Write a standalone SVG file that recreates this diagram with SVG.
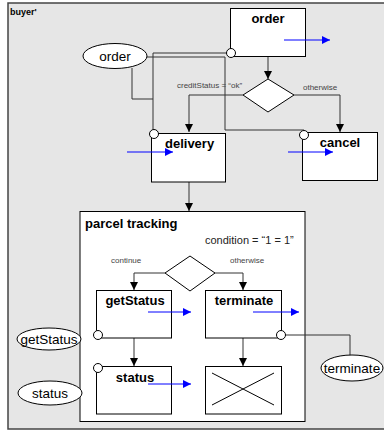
<svg xmlns="http://www.w3.org/2000/svg" width="384" height="432" viewBox="0 0 384 432">
<defs>
<marker id="ah" viewBox="0 0 10 10" refX="10" refY="5" markerWidth="8" markerHeight="8" markerUnits="userSpaceOnUse" orient="auto"><path d="M0,0 L10,5 L0,10 Z" fill="#000"/></marker>
<marker id="bh" viewBox="0 0 10 10" refX="10" refY="5" markerWidth="9" markerHeight="8" markerUnits="userSpaceOnUse" orient="auto"><path d="M0,0 L10,5 L0,10 Z" fill="#0000ff"/></marker>
<style>
.box{fill:#fff;stroke:#000;stroke-width:1}
.title{font-family:"Liberation Sans",Arial,sans-serif;font-size:13px;font-weight:bold;fill:#000}
.el{font-family:"Liberation Sans",Arial,sans-serif;font-size:13.5px;fill:#000}
.lbl{font-family:"Liberation Sans",Arial,sans-serif;font-size:8px;fill:#444}
.cond{font-family:"Liberation Sans",Arial,sans-serif;font-size:11px;fill:#222}
.ln{fill:none;stroke:#333;stroke-width:1}
.arr{fill:none;stroke:#333;stroke-width:1;marker-end:url(#ah)}
.blue{fill:none;stroke:#0000ff;stroke-width:1;marker-end:url(#bh)}
.port{fill:#fff;stroke:#000;stroke-width:1}
</style>
</defs>
<g id="frame">
<rect x="8" y="3" width="382" height="426" fill="#e6e6e6" stroke="#444" stroke-width="1.5"/>
<text x="10" y="15" font-family="Liberation Sans,Arial,sans-serif" font-size="9" font-weight="bold">buyer'</text>
</g>
<g id="parcel-tracking">
<rect class="box" x="80" y="211.5" width="225" height="210"/>
<text class="title" x="85" y="228">parcel tracking</text>
<text class="cond" x="205" y="244">condition = “1 = 1”</text>
</g>
<g id="connectors">
<path class="arr" d="M268,56 V79"/>
<path class="arr" d="M243,95 H189 V132"/>
<path class="arr" d="M294,95 H340 V132"/>
<path class="arr" d="M189,182 V211"/>
<path class="ln" d="M231,53 H153 V134"/>
<path class="ln" d="M147,57 H225 V130 H304"/>
<path class="ln" d="M132,68 V99 H153"/>
<path class="arr" d="M165,273 H134 V290"/>
<path class="arr" d="M215,273 H243 V290"/>
<path class="arr" d="M134,338 V366"/>
<path class="arr" d="M243,338 V366"/>
<path class="ln" d="M281,335 H350 V356"/>
<text class="lbl" x="177" y="88">creditStatus = “ok”</text>
<text class="lbl" x="303" y="90">otherwise</text>
<text class="lbl" x="111" y="263">continue</text>
<text class="lbl" x="230" y="263">otherwise</text>
</g>
<g id="order">
<rect class="box" x="230.5" y="8.5" width="75" height="48"/>
<text class="title" x="268" y="23" text-anchor="middle">order</text>
<path class="blue" d="M284,40 H330"/>
<circle class="port" cx="231" cy="53" r="4.5"/>
</g>
<g id="decision-credit">
<path d="M243,95 L268,79 L294,95 L268,112 Z" fill="#fff" stroke="#000"/>
</g>
<g id="order-msg">
<ellipse cx="115" cy="56" rx="32" ry="12.5" fill="#fff" stroke="#000"/>
<text class="el" x="115" y="60.5" text-anchor="middle">order</text>
</g>
<g id="delivery">
<rect class="box" x="151.5" y="133.5" width="74" height="48.5"/>
<text class="title" x="165" y="148">delivery</text>
<path class="blue" d="M127,152 H173"/>
<circle class="port" cx="154" cy="134" r="4.5"/>
</g>
<g id="cancel">
<rect class="box" x="302.5" y="132.5" width="75" height="48"/>
<text class="title" x="340" y="147" text-anchor="middle">cancel</text>
<path class="blue" d="M288,152 H333"/>
<circle class="port" cx="304" cy="135" r="4.5"/>
</g>
<g id="decision-condition">
<path d="M165,273 L190,256 L215,273 L190,291 Z" fill="#fff" stroke="#000"/>
</g>
<g id="getStatus">
<rect class="box" x="96.5" y="290.5" width="75" height="47.5"/>
<text class="title" x="135" y="305" text-anchor="middle">getStatus</text>
<path class="blue" d="M148,312 H191"/>
<circle class="port" cx="98" cy="335" r="4.5"/>
</g>
<g id="terminate">
<rect class="box" x="205.5" y="290.5" width="76" height="47.5"/>
<text class="title" x="244" y="305" text-anchor="middle">terminate</text>
<path class="blue" d="M253,312 H299"/>
<circle class="port" cx="281" cy="335" r="4.5"/>
</g>
<g id="status">
<rect class="box" x="96.5" y="366.5" width="75" height="47.5"/>
<text class="title" x="135" y="382" text-anchor="middle">status</text>
<path class="blue" d="M148,384 H191"/>
<circle class="port" cx="98" cy="368" r="4.5"/>
</g>
<g id="end">
<rect class="box" x="205.5" y="366.5" width="76" height="47.5"/>
<path d="M212,373 L274,405 M212,405 L274,373" stroke="#000" fill="none"/>
</g>
<g id="getStatus-msg">
<ellipse cx="49" cy="339" rx="32" ry="11" fill="#fff" stroke="#000"/>
<text class="el" x="49" y="343.5" text-anchor="middle">getStatus</text>
</g>
<g id="status-msg">
<ellipse cx="50" cy="393" rx="32" ry="12" fill="#fff" stroke="#000"/>
<text class="el" x="50" y="397.5" text-anchor="middle">status</text>
</g>
<g id="terminate-msg">
<ellipse cx="352" cy="368" rx="31" ry="13" fill="#fff" stroke="#000"/>
<text class="el" x="352" y="372.5" text-anchor="middle">terminate</text>
</g>
</svg>
